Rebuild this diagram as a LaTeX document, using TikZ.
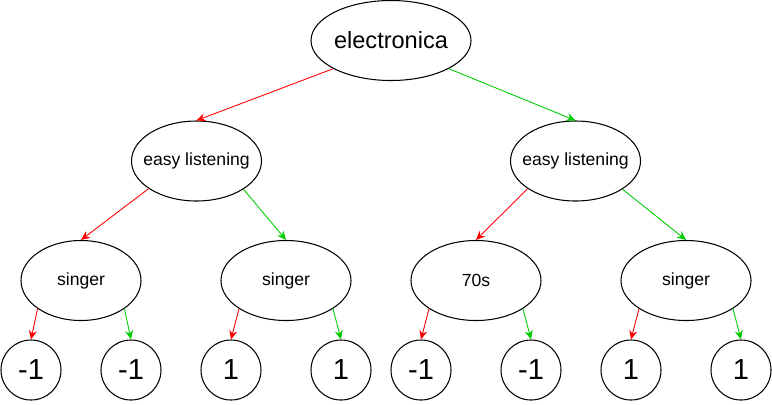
\documentclass[tikz,border=0pt]{standalone}
\usepackage{fontspec}
\setmainfont{Liberation Sans}
\usetikzlibrary{shapes.geometric,arrows.meta}
\definecolor{nored}{RGB}{255,0,0}
\definecolor{yesgreen}{RGB}{0,204,0}

\begin{document}
\begin{tikzpicture}
	[
	x=0.2mm, y=-0.2mm,
	align=center,
	node/.style={draw, ellipse, line width=0.6pt, inner xsep=-2mm, inner ysep=0pt, minimum height=16mm, minimum width=26mm, font=\fontsize{10}{12}\selectfont},
	leaf/.style={draw, circle, line width=0.6pt, inner sep=0pt, minimum size=12mm, font=\fontsize{16.5}{18}\selectfont},
	noedge/.style={draw=nored, line width=0.5pt, -{Stealth[length=1.8mm,width=1.6mm,fill=nored]}},
	yesedge/.style={draw=yesgreen, line width=0.5pt, -{Stealth[length=1.8mm,width=1.6mm,fill=yesgreen]}},
	]
		\useasboundingbox (0,0) rectangle (772,404);
		
		% root
		\node[node, minimum width=32mm, font=\fontsize{13.4}{16}\selectfont] (el) at (391, 40.5) {electronica};
		
		% second level
		\node[node] (ea) at 		(196.5, 161 ) {easy listening};
		\node[node] (eb) at 		(575.5, 161 ) {easy listening};
		
		% third level
		\node[node, minimum width=24mm] (sa) at ( 81, 280.5 ) {singer};
		\node[node] (sb) at 		(286, 280.5 ) {singer};
		\node[node] (sc) at 		(476, 280.5 ) {70s};
		\node[node] (sd) at 		(686, 280.5 ) {singer};
		
		% leaves
		\node[leaf] (la) at 		( 31, 370 ) {-1};
		\node[leaf] (lb) at 		(131, 370 ) {-1};
		\node[leaf] (lc) at 		(231, 370 ) {1};
		\node[leaf] (ld) at 		(341, 370 ) {1};
		\node[leaf] (le) at 		(421, 370 ) {-1};
		\node[leaf] (lf) at 		(531, 370 ) {-1};
		\node[leaf] (lg) at 		(631, 370 ) {1};
		\node[leaf] (lh) at 		(741, 370 ) {1};
		
		\foreach \from/\to in {el.206/ea,ea.210/sa,eb.210/sc,sa.213/la,sb.211/lc,sc.211/le,sd.211/lg} \draw[noedge] (\from) -- (\to.north);
		\foreach \from/\to in {el.334/eb,ea.329/sb,eb.329/sd,sa.327/lb,sb.329/ld,sc.329/lf,sd.329/lh} \draw[yesedge] (\from) -- (\to.north);
		
	\end{tikzpicture}
\end{document}
